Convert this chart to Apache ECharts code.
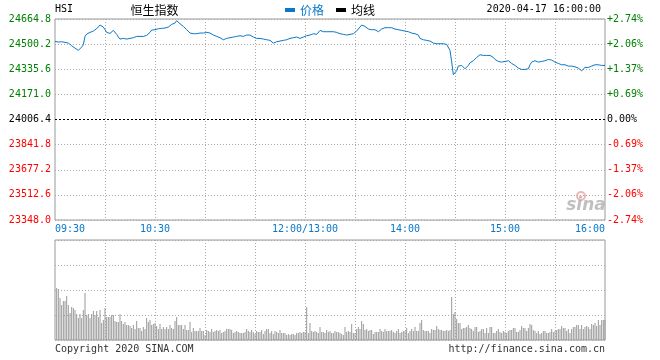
<!DOCTYPE html>
<html><head><meta charset="utf-8">
<script src="https://cdn.jsdelivr.net/npm/echarts@6/dist/echarts.min.js"></script>
<style>html,body{margin:0;padding:0;background:#fff}#c{width:660px;height:360px}</style>
</head><body><div id="c"></div>
<script>
const prevClose = 24006.4;
const priceTicks = ['23348.0','23512.6','23677.2','23841.8','24006.4','24171.0','24335.6','24500.2','24664.8'];
const pctTicks = ['-2.74%','-2.06%','-1.37%','-0.69%','0.00%','+0.69%','+1.37%','+2.06%','+2.74%'];
const timeLabelIdx = [0, 60, 150, 210, 270, 330];
const timeLabelText = ['09:30', '10:30', '12:00/13:00', '14:00', '15:00', '16:00'];

const prices = [
24518.0,24515.8,24513.7,24507.1,24515.8,24507.1,24511.5,24518.0,24507.1,24500.5,
24489.6,24485.2,24474.3,24467.7,24459.0,24459.0,24480.9,24496.2,24550.8,24566.1,
24570.5,24577.1,24581.5,24585.8,24594.6,24601.1,24612.1,24625.2,24625.2,24612.1,
24594.6,24577.1,24568.3,24570.5,24581.5,24590.2,24577.1,24564.0,24546.5,24533.3,
24533.3,24537.7,24535.5,24533.3,24533.3,24537.7,24539.9,24542.1,24544.3,24550.8,
24553.0,24550.8,24550.8,24550.8,24553.0,24557.4,24564.0,24577.1,24592.4,24594.6,
24594.6,24596.8,24601.1,24605.5,24603.3,24607.7,24605.5,24603.3,24612.1,24620.8,
24629.6,24629.6,24638.3,24653.6,24642.7,24633.9,24627.4,24616.4,24605.5,24594.6,
24583.6,24572.7,24568.3,24568.3,24568.3,24568.3,24570.5,24572.7,24572.7,24572.7,
24577.1,24577.1,24572.7,24572.7,24568.3,24559.6,24555.2,24550.8,24546.5,24542.1,
24533.3,24529.0,24529.0,24537.7,24542.1,24542.1,24542.1,24546.5,24542.1,24550.8,
24559.6,24555.2,24550.8,24550.8,24555.2,24559.6,24564.0,24559.6,24550.8,24546.5,
24542.1,24537.7,24537.7,24537.7,24537.7,24533.3,24533.3,24529.0,24529.0,24524.6,
24515.8,24507.1,24511.5,24515.8,24515.8,24520.2,24524.6,24524.6,24529.0,24529.0,
24533.3,24537.7,24537.7,24542.1,24542.1,24546.5,24537.7,24537.7,24546.5,24546.5,
24555.2,24555.2,24550.8,24559.6,24564.0,24568.3,24568.3,24564.0,24577.1,24590.2,
24581.5,24581.5,24581.5,24581.5,24577.1,24581.5,24581.5,24581.5,24581.5,24577.1,
24572.7,24568.3,24566.1,24564.0,24561.8,24559.6,24561.8,24564.0,24566.1,24568.3,
24572.7,24585.8,24599.0,24612.1,24625.2,24625.2,24616.4,24605.5,24599.0,24603.3,
24594.6,24590.2,24594.6,24585.8,24581.5,24590.2,24599.0,24603.3,24607.7,24603.3,
24607.7,24612.1,24607.7,24603.3,24599.0,24594.6,24594.6,24590.2,24590.2,24581.5,
24585.8,24585.8,24581.5,24577.1,24572.7,24572.7,24568.3,24568.3,24559.6,24537.7,
24529.0,24529.0,24524.6,24524.6,24524.6,24520.2,24515.8,24507.1,24502.7,24502.7,
24502.7,24502.7,24502.7,24502.7,24498.4,24498.4,24494.0,24459.0,24384.6,24300.0,
24308.1,24325.6,24356.2,24356.2,24360.6,24356.2,24338.7,24338.7,24360.6,24378.1,
24391.2,24391.2,24404.3,24413.1,24421.8,24430.6,24430.6,24426.2,24426.2,24426.2,
24426.2,24426.2,24421.8,24413.1,24399.9,24391.2,24386.8,24382.4,24382.4,24382.4,
24386.8,24395.6,24391.2,24382.4,24373.7,24364.9,24360.6,24351.8,24343.1,24338.7,
24334.3,24334.3,24334.3,24334.3,24338.7,24364.9,24382.4,24382.4,24391.2,24386.8,
24382.4,24382.4,24386.8,24382.4,24391.2,24395.6,24399.9,24395.6,24395.6,24391.2,
24382.4,24378.1,24373.7,24364.9,24364.9,24360.6,24364.9,24360.6,24356.2,24356.2,
24356.2,24351.8,24351.8,24347.4,24343.1,24334.3,24325.6,24334.3,24347.4,24343.1,
24347.4,24351.8,24356.2,24356.2,24364.9,24360.6,24364.9,24360.6,24360.6,24364.9,24360.6
];

const volumes = [
0,
52,51,42,35,39,39,44,35,27,33,32,30,26,22,26,22,30,47,25,26,22,26,29,25,29,23,30,17,20,32,
23,23,23,25,25,19,18,18,26,19,16,18,15,15,14,12,15,11,19,12,12,9,13,11,22,18,20,15,16,17,
14,11,16,11,13,11,13,11,15,12,11,19,23,15,15,15,11,15,10,10,18,8,12,9,9,9,12,9,9,5,
10,9,8,11,8,9,10,9,10,7,8,9,11,11,11,10,7,8,9,8,7,7,7,8,11,9,8,10,8,6,
9,8,8,10,6,9,11,11,7,9,6,9,8,7,10,7,7,7,5,6,5,6,6,5,7,7,8,7,8,8,
33,7,17,9,8,9,8,7,13,8,8,7,10,8,9,7,7,9,8,8,7,6,5,13,8,9,8,16,7,7,
11,13,11,19,16,10,11,9,10,10,6,8,8,8,11,9,8,11,9,9,9,10,8,7,9,11,7,8,9,9,
12,7,9,11,9,13,9,9,17,20,10,9,9,9,7,11,10,10,14,11,10,10,9,9,10,9,10,43,26,28,
21,17,17,11,12,12,13,15,12,11,9,13,13,8,9,11,11,7,12,7,13,13,7,7,9,11,8,7,9,8,
7,9,10,10,12,12,8,8,10,14,12,12,9,12,16,15,10,9,7,9,6,7,9,9,7,7,8,11,8,9,
10,11,11,14,12,12,9,11,7,11,13,13,15,15,11,15,11,13,14,13,11,16,15,17,14,20,15,20,20,20
];

// minute categories 09:30-12:00 and 13:00-16:00 (12:00 and 13:00 share a slot)
const minutes = [];
function hm(t){const h=Math.floor(t/60),m=t%60;return (h<10?'0':'')+h+':'+(m<10?'0':'')+m;}
for (let i = 0; i <= 330; i++) {
  if (i < 150) minutes.push(hm(570 + i));
  else if (i === 150) minutes.push('12:00/13:00');
  else minutes.push(hm(780 + i - 150));
}

const span = 658.4, step = 164.6;
const diffs = prices.map(p => +(p - prevClose).toFixed(1));
const mono = 'DejaVu Sans Mono';
const cjk = 'Noto Sans CJK SC';
const blue = '#0a78c8';
function tickIdx(v){ return Math.round((parseFloat(v) + span) / step); }
function tickColor(v){ const i = tickIdx(v); return i > 4 ? '#008000' : (i < 4 ? '#ff0000' : '#000000'); }
const splitColors = ['#aaa','#aaa','#aaa','#aaa','rgba(0,0,0,0)','#aaa','#aaa','#aaa','#aaa'];

const chart = echarts.init(document.getElementById('c'));
chart.setOption({
  animation: false,
  backgroundColor: '#fff',
  grid: [
    {left: 55, top: 19, width: 550, height: 201, show: true, borderColor: '#999', borderWidth: 1, backgroundColor: 'rgba(0,0,0,0)'},
    {left: 55, top: 240, width: 550, height: 100, show: true, borderColor: '#999', borderWidth: 1, backgroundColor: 'rgba(0,0,0,0)'}
  ],
  legend: {
    left: 285, top: 4, padding: 0, itemWidth: 10, itemHeight: 4, itemGap: 12, icon: 'rect', selectedMode: false,
    textStyle: {fontFamily: cjk, fontSize: 12},
    data: [{name: '价格', textStyle: {color: blue}}, {name: '均线', textStyle: {color: '#000'}}]
  },
  xAxis: [
    {
      type: 'category', gridIndex: 0, data: minutes, boundaryGap: false,
      axisLine: {show: false}, axisTick: {show: false},
      axisLabel: {
        interval: (i) => timeLabelIdx.includes(i),
        formatter: (v, i) => {
          const k = timeLabelIdx.indexOf(i);
          const t = timeLabelText[k];
          if (k === 0) return '{l|' + t + '}';
          if (k === timeLabelIdx.length - 1) return '{r|' + t + '}';
          return t;
        },
        color: blue, fontFamily: mono, fontSize: 10, margin: 4,
        rich: {
          l: {padding: [0, 0, 0, 30], color: blue, fontFamily: mono, fontSize: 10},
          r: {padding: [0, 30, 0, 0], color: blue, fontFamily: mono, fontSize: 10}
        }
      },
      splitLine: {show: true, interval: (i) => i % 30 === 0 && i > 0 && i < 330, lineStyle: {color: '#aaa', type: [1, 2], width: 1}}
    },
    {
      type: 'category', gridIndex: 1, data: minutes, boundaryGap: false,
      axisLine: {show: false}, axisTick: {show: false}, axisLabel: {show: false},
      splitLine: {show: true, interval: (i) => i % 30 === 0 && i > 0 && i < 330, lineStyle: {color: '#aaa', type: [1, 2], width: 1}}
    }
  ],
  yAxis: [
    {
      type: 'value', gridIndex: 0, min: -span, max: span, interval: step, position: 'left',
      axisLine: {show: false}, axisTick: {show: false},
      splitLine: {show: true, lineStyle: {color: splitColors, type: [1, 2], width: 1}},
      axisLabel: {
        formatter: (v) => priceTicks[tickIdx(v)], color: tickColor,
        fontFamily: mono, fontSize: 10, margin: 4, verticalAlign: 'middle', padding: [0, 0, 5, 0]
      }
    },
    {
      type: 'value', gridIndex: 0, min: -span, max: span, interval: step, position: 'right',
      axisLine: {show: false}, axisTick: {show: false}, splitLine: {show: false},
      axisLabel: {
        formatter: (v) => pctTicks[tickIdx(v)], color: tickColor,
        fontFamily: mono, fontSize: 10, margin: 2, verticalAlign: 'middle', padding: [0, 0, 5, 0]
      }
    },
    {
      type: 'value', gridIndex: 1, min: 0, max: 100, interval: 25,
      axisLine: {show: false}, axisTick: {show: false}, axisLabel: {show: false},
      splitLine: {show: true, lineStyle: {color: '#aaa', type: [1, 2], width: 1}}
    }
  ],
  series: [
    {
      name: '价格', type: 'line', xAxisIndex: 0, yAxisIndex: 0, data: diffs,
      showSymbol: false, symbol: 'none', color: blue, lineStyle: {width: 1, color: blue},
      markLine: {
        silent: true, symbol: 'none', label: {show: false},
        lineStyle: {color: '#000', type: [2, 2], width: 1},
        data: [{yAxis: 0}]
      }
    },
    {name: '均线', type: 'line', xAxisIndex: 0, yAxisIndex: 0, data: [], color: '#000', showSymbol: false},
    {
      name: '成交量', type: 'bar', xAxisIndex: 1, yAxisIndex: 2, data: volumes,
      barWidth: 1, itemStyle: {color: '#999'}
    }
  ],
  graphic: [
    {type: 'text', x: 55, y: 9.5, style: {text: 'HSI', font: '10px "DejaVu Sans Mono"', fill: '#000', align: 'left', verticalAlign: 'middle'}},
    {type: 'text', x: 154.5, y: 10, style: {text: '恒生指数', font: '12px "Noto Sans CJK SC"', fill: '#000', align: 'center', verticalAlign: 'middle'}},
    {type: 'text', x: 601, y: 9.5, style: {text: '2020-04-17 16:00:00', font: '10px "DejaVu Sans Mono"', fill: '#000', align: 'right', verticalAlign: 'middle'}},
    {type: 'text', x: 55, y: 349.5, style: {text: 'Copyright 2020 SINA.COM', font: '10px "DejaVu Sans Mono"', fill: '#333', align: 'left', verticalAlign: 'middle'}},
    {type: 'text', x: 605, y: 349.5, style: {text: 'http://finance.sina.com.cn', font: '10px "DejaVu Sans Mono"', fill: '#333', align: 'right', verticalAlign: 'middle'}},
    {type: 'circle', shape: {cx: 581, cy: 196, r: 4}, style: {fill: 'rgba(0,0,0,0)', stroke: 'rgba(230,120,120,0.55)', lineWidth: 2}},
    {type: 'text', x: 586, y: 206, style: {text: 'sina', font: 'italic bold 17px "DejaVu Sans"', fill: 'rgba(150,150,150,0.6)', align: 'center', verticalAlign: 'middle'}}
  ]
});
</script>
</body></html>
